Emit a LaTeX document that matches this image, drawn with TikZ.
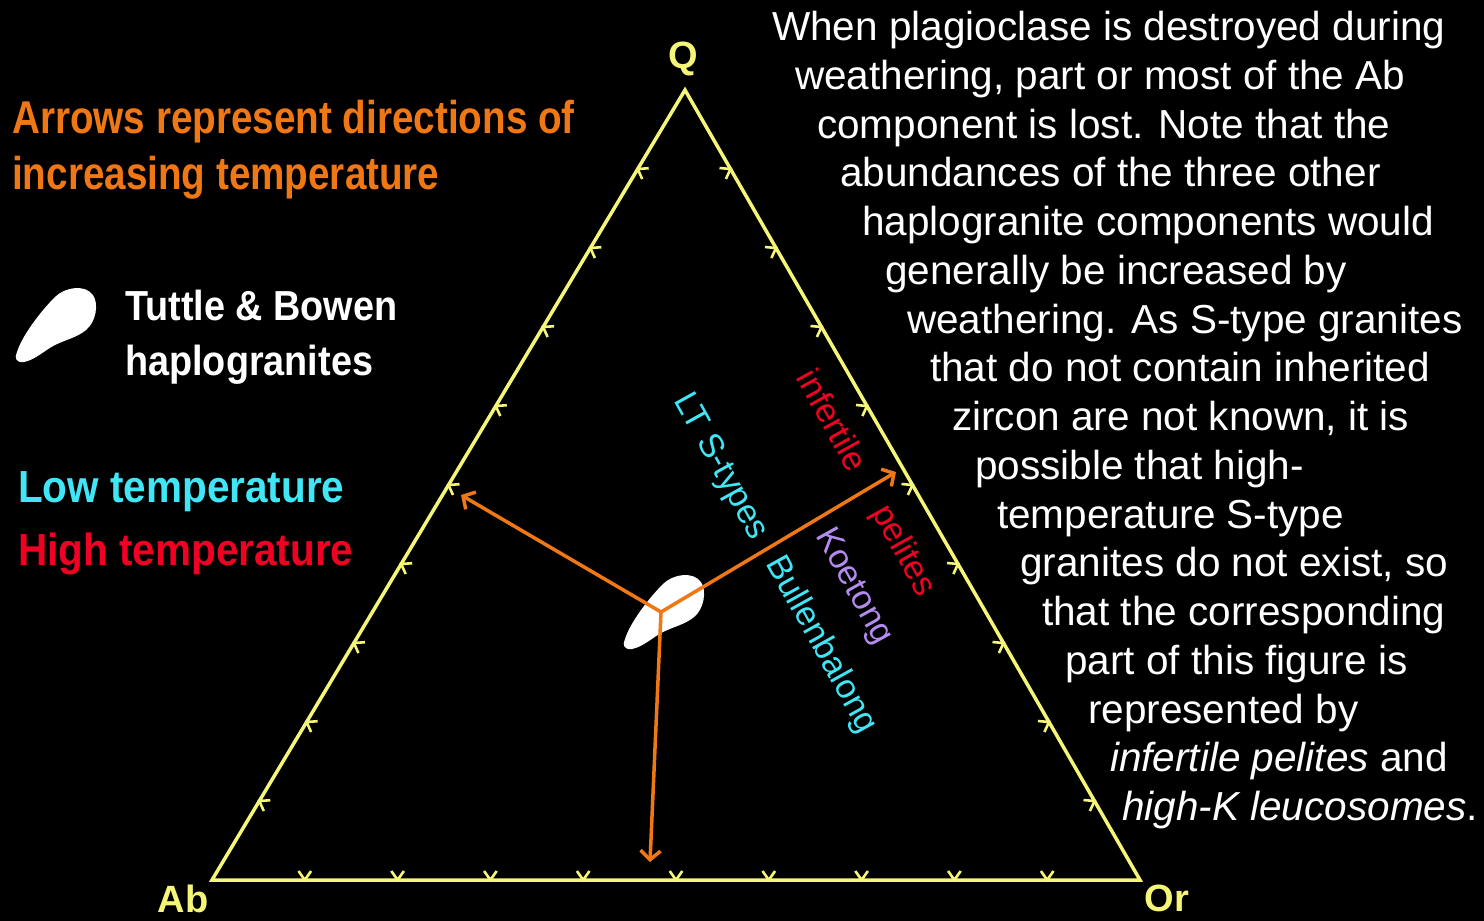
\documentclass[tikz,border=0pt]{standalone}
\usepackage{fontspec}
\setmainfont{Liberation Sans}
\newfontfamily\nbA[FakeStretch=0.84]{Liberation Sans}
\newfontfamily\nbB[FakeStretch=0.9]{Liberation Sans}
\usetikzlibrary{arrows.meta,calc}
\definecolor{tyellow}{RGB}{245,245,120}
\definecolor{torange}{RGB}{240,120,20}
\definecolor{tcyan}{RGB}{64,230,245}
\definecolor{tred}{RGB}{240,0,35}
\definecolor{tpurple}{RGB}{180,140,240}
\tikzset{
  tri/.style={draw=tyellow, line width=3.5pt, line join=miter},
  tickmark/.style={draw=tyellow, line width=2.6pt},
  arr/.style={draw=torange, line width=3.5pt, -{Straight Barb[length=9pt,width=20pt]}},
  rtext/.style={text=white, anchor=base west, inner sep=0pt, font=\fontsize{40.5}{48}\selectfont},
  otext/.style={text=torange, anchor=base west, inner sep=0pt, font=\nbA\bfseries\fontsize{46}{50}\selectfont},
  ltext/.style={anchor=base west, inner sep=0pt, font=\nbB\bfseries\fontsize{42}{46}\selectfont},
  vlabel/.style={text=tyellow, anchor=base, inner sep=0pt, font=\bfseries\fontsize{38}{40}\selectfont},
  rotlabel/.style={rotate=-61, anchor=center, inner sep=0pt, font=\fontsize{34}{38}\selectfont},
  blob/.pic={
    \fill[white] (17,352) .. controls (22,336) and (40,312) .. (55,297)
      .. controls (65,287) and (85,284) .. (93,295)
      .. controls (99,304) and (96,322) .. (86,330)
      .. controls (78,337) and (65,340) .. (55,345)
      .. controls (45,350) and (35,360) .. (24,362)
      .. controls (16,363) and (14,358) .. (17,352) -- cycle;
  }
}
\begin{document}
\begin{tikzpicture}[x=1pt,y=-1pt]
\fill[black] (0,0) rectangle (1484,921);
\useasboundingbox (0,0) rectangle (1484,921);

% triangle
\coordinate (Q) at (685,90);
\coordinate (Ab) at (212,880);
\coordinate (Or) at (1140,880);
\draw[tri] (Q) -- (Ab) -- (Or) -- cycle;

% ticks
\foreach \i in {1,...,9}{
  \coordinate (b\i) at ($(Ab)!\i/10!(Or)$);
  \draw[tickmark] (b\i) ++(-6.3,-9) -- (b\i) -- ++(6.3,-9);
  \coordinate (l\i) at ($(Ab)!\i/10!(Q)$);
  \draw[tickmark] (l\i) ++(4.5,10) -- (l\i) -- ++(11,-0.8);
  \coordinate (r\i) at ($(Or)!\i/10!(Q)$);
  \draw[tickmark] (r\i) ++(-4.6,10) -- (r\i) -- ++(-11,-1);
}

% vertex labels
\node[vlabel] (lQ) at (683,68) {Q};
\node[vlabel] (lAb) at (183,912) {Ab};
\node[vlabel] (lOr) at (1167,911) {Or};

% blobs
\pic at (0,0) {blob};
\pic at (608,287) {blob};

% arrows
\coordinate (c) at (661,612);
\coordinate (aL) at (461,495);
\coordinate (aR) at (896,472);
\coordinate (aD) at (650,862);
\draw[arr] (c) -- (aL);
\draw[arr] (c) -- (aR);
\draw[arr] (c) -- (aD);

% rotated labels
\node[rotlabel, text=tcyan] (lts) at (720,467) {LT S-types};
\node[rotlabel, text=tcyan] (bul) at (821,645) {Bullenbalong};
\node[rotlabel, text=tpurple] (koe) at (853,587) {Koetong};
\node[rotlabel, text=tred] (inf) at (833,420) {infertile};
\node[rotlabel, text=tred] (pel) at (903,551) {pelites};

% left texts
\node[otext] (ar1) at (12,133) {Arrows represent directions of};
\node[otext] (ar2) at (12,189) {increasing temperature};
\node[ltext, text=white] (tb1) at (125,320) {Tuttle \& Bowen};
\node[ltext, text=white] (tb2) at (125,375) {haplogranites};
\node[ltext, text=tcyan, font=\nbB\bfseries\fontsize{45}{48}\selectfont] (lowt) at (18,502) {Low temperature};
\node[ltext, text=tred, font=\nbB\bfseries\fontsize{45}{48}\selectfont] (hight) at (18,565) {High temperature};

% right text
\node[rtext] (t1) at (772,40) {When plagioclase is destroyed during};
\node[rtext] (t2) at (795,89) {weathering, part or most of the Ab};
\node[rtext] (t3) at (817,138) {component is lost. Note that the};
\node[rtext] (t4) at (840,186) {abundances of the three other};
\node[rtext] (t5) at (862,235) {haplogranite components would};
\node[rtext] (t6) at (885,284) {generally be increased by};
\node[rtext] (t7) at (907,333) {weathering. As S-type granites};
\node[rtext] (t8) at (930,381) {that do not contain inherited};
\node[rtext] (t9) at (952,430) {zircon are not known, it is};
\node[rtext] (t10) at (975,479) {possible that high-};
\node[rtext] (t11) at (997,528) {temperature S-type};
\node[rtext] (t12) at (1020,576) {granites do not exist, so};
\node[rtext] (t13) at (1042,625) {that the corresponding};
\node[rtext] (t14) at (1065,674) {part of this figure is};
\node[rtext] (t15) at (1088,723) {represented by};
\node[rtext] (t16) at (1110,771) {\textit{infertile pelites} and};
\node[rtext] (t17) at (1122,820) {\textit{high-K leucosomes}.};
\end{tikzpicture}
\end{document}
